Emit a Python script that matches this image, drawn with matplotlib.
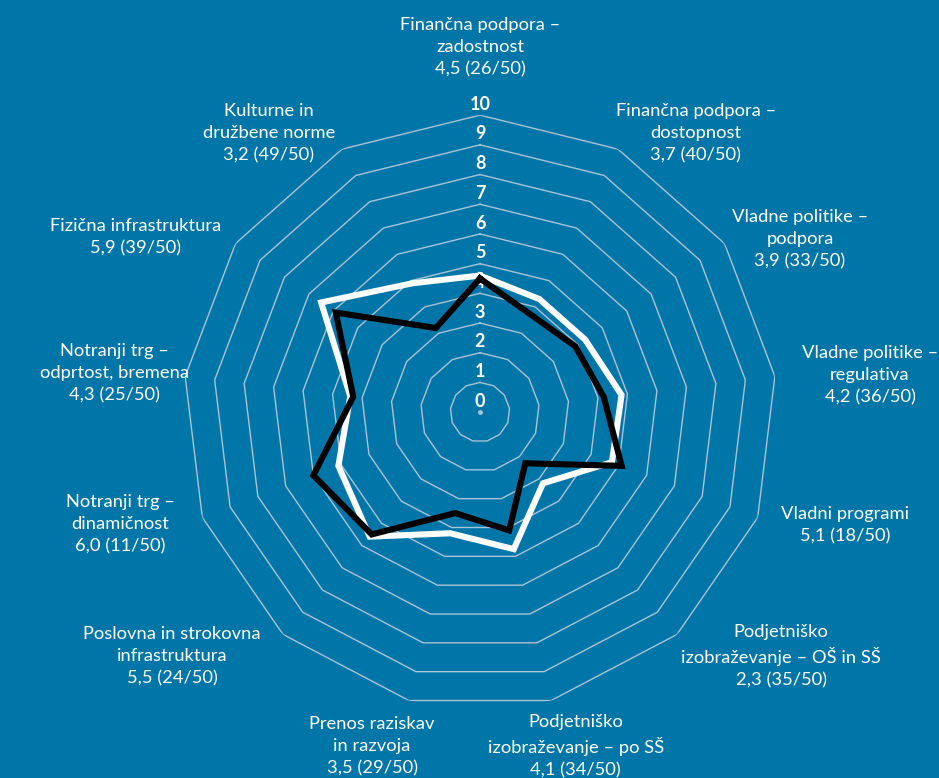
import numpy as np
import matplotlib
matplotlib.use("Agg")
import matplotlib.pyplot as plt

# data
categories = [
    "Finančna podpora –\nzadostnost",
    "Finančna podpora –\ndostopnost",
    "Vladne politike –\npodpora",
    "Vladne politike –\nregulativa",
    "Vladni programi",
    "Podjetniško\nizobraževanje – OŠ in SŠ",
    "Podjetniško\nizobraževanje – po SŠ",
    "Prenos raziskav\nin razvoja",
    "Poslovna in strokovna\ninfrastruktura",
    "Notranji trg –\ndinamičnost",
    "Notranji trg –\nodprtost, bremena",
    "Fizična infrastruktura",
    "Kulturne in\ndružbene norme",
]
slovenia = [4.5, 3.7, 3.9, 4.2, 5.1, 2.3, 4.1, 3.5, 5.5, 6.0, 4.3, 5.9, 3.2]
ranks = [26, 40, 33, 36, 18, 35, 34, 29, 24, 11, 25, 39, 49]
comparison = [4.6, 4.3, 4.3, 4.8, 4.75, 3.2, 4.75, 4.2, 5.6, 5.1, 4.4, 6.5, 4.9]
ring_values = list(range(0, 11))

# label placement (angle in degrees clockwise from top, radius in data units)
label_angle = [0, 37.7, 61.6, 84.6, 107.2, 129.0, 164.0, 197.9, 231.6, 252.7, 276.1, 296.9, 322.9]
label_radius = [12.29, 11.88, 12.25, 13.19, 12.86, 13.05, 11.70, 11.82, 13.23, 12.69, 12.39, 13.02, 11.78]

BG = "#0076a8"
GRID = "#a9c3d3"

plt.rcParams["font.family"] = ["Lato", "DejaVu Sans"]

fig = plt.figure(figsize=(9.39, 7.78), dpi=100, facecolor=BG)
ax = fig.add_axes([0.1949, 0.0925 - 0.004, 0.6326, 0.7635], projection="polar")
ax.set_facecolor(BG)
ax.patch.set_alpha(0)
ax.set_theta_zero_location("N")
ax.set_theta_direction(-1)
ax.set_ylim(0, 10)
ax.grid(False)
ax.spines["polar"].set_visible(False)
ax.set_xticks([])
ax.set_yticks([])

n = len(categories)
theta = np.linspace(0, 2 * np.pi, n, endpoint=False)
theta_closed = np.append(theta, theta[0])

# polygon rings
for v in ring_values[1:]:
    ax.plot(theta_closed, [v] * (n + 1), color=GRID, lw=1.0, zorder=1)
ax.plot([0], [0], marker="o", ms=2.5, color=GRID, zorder=1)

# ring numbers
for v in ring_values:
    ax.text(0, v + 0.08, str(v), ha="center", va="bottom", color="white",
            fontsize=13, fontweight="bold", zorder=2)

# series
ax.plot(theta_closed, comparison + comparison[:1], color="white", lw=4.4,
        solid_joinstyle="miter", zorder=3, clip_on=False)
ax.plot(theta_closed, slovenia + slovenia[:1], color="black", lw=4.4,
        solid_joinstyle="miter", zorder=4, clip_on=False)

# axis labels
for cat, val, rk, ang, rad in zip(categories, slovenia, ranks, label_angle, label_radius):
    txt = f"{cat}\n{str(val).replace('.', ',')} ({rk}/50)"
    ax.text(np.deg2rad(ang), rad, txt, ha="center", va="center", color="white",
            fontsize=13.2, linespacing=1.48, multialignment="center", clip_on=False)

fig.savefig("out.png", dpi=100, facecolor=BG)
